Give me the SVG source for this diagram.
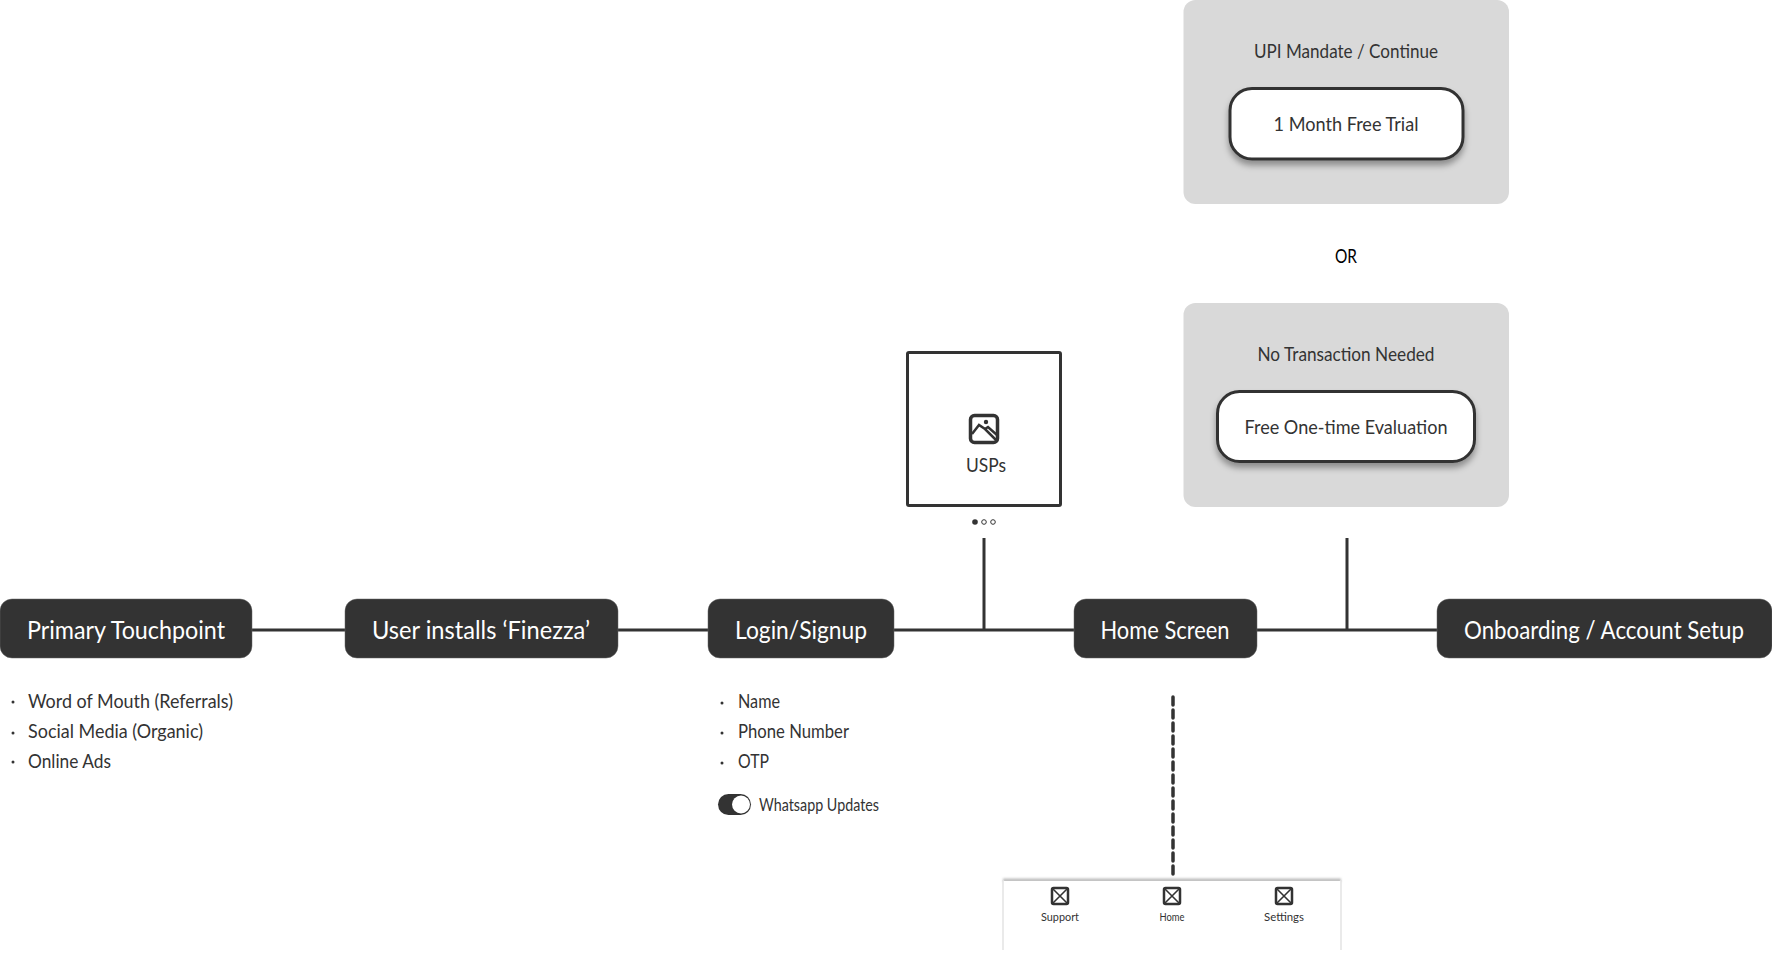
<svg xmlns="http://www.w3.org/2000/svg" width="1772" height="955" viewBox="0 0 1772 955">
<style>
text{font-family:"Lato","Noto Sans","Liberation Sans",sans-serif;fill:#333}
.n{fill:#333;stroke:#666;stroke-width:.5}
.nt{fill:#fff;font-size:25px;text-anchor:middle}
.l{font-size:20px}
.b{font-size:20px;text-anchor:middle}
.c{stroke:#333;stroke-width:3;fill:none}
.d{stroke:#333;stroke-width:3.500;fill:none;stroke-dasharray:8 5;stroke-linecap:round}
.p{fill:#d9d9d9}
.btn{fill:#fff;stroke:#333;stroke-width:3;filter:url(#s)}
.i{fill:none;stroke:#333;stroke-width:2.500}
.ix{fill:none;stroke:#333;stroke-width:1.600}
.tab{font-size:12px;text-anchor:middle}
</style>
<defs>
<filter id="s" x="-10%" y="-20%" width="120%" height="150%"><feDropShadow dx="0" dy="5" stdDeviation="3" flood-color="#000" flood-opacity=".35"/></filter>
<filter id="b" x="-2%" y="-100%" width="104%" height="300%"><feGaussianBlur stdDeviation="1"/></filter>
<g id="x"><rect x="-8" y="-8" width="16" height="16" rx="1.500" class="i"/><path d="M-8-8 8 8M8-8-8 8" class="ix"/></g>
</defs>
<g id="connectors">
<path class="c" d="M252 630H345M618 630H708M894 630H1074M1257 630H1437M984 538V630M1347 538V630"/>
<path class="d" d="M1173 697V875"/>
</g>
<g id="primary-touchpoint"><rect class="n" x="0" y="599" width="252" height="59" rx="12"/><text class="nt" x="126" y="639" textLength="198" lengthAdjust="spacingAndGlyphs">Primary Touchpoint</text></g>
<g id="user-installs"><rect class="n" x="345" y="599" width="273" height="59" rx="12"/><text class="nt" x="481" y="639" textLength="218" lengthAdjust="spacingAndGlyphs">User installs ‘Finezza’</text></g>
<g id="login-signup"><rect class="n" x="708" y="599" width="186" height="59" rx="12"/><text class="nt" x="801" y="639" textLength="132" lengthAdjust="spacingAndGlyphs">Login/Signup</text></g>
<g id="home-screen"><rect class="n" x="1074" y="599" width="183" height="59" rx="12"/><text class="nt" x="1165" y="639" textLength="129" lengthAdjust="spacingAndGlyphs">Home Screen</text></g>
<g id="onboarding"><rect class="n" x="1437" y="599" width="335" height="59" rx="12"/><text x="1464" y="639" style="fill:#fff;font-size:25px" textLength="280" lengthAdjust="spacingAndGlyphs">Onboarding / Account Setup</text></g>
<g id="touchpoint-list">
<circle cx="13" cy="702" r="1.500" fill="#333"/><text class="l" x="28" y="708" textLength="205" lengthAdjust="spacingAndGlyphs">Word of Mouth (Referrals)</text>
<circle cx="13" cy="733" r="1.500" fill="#333"/><text class="l" x="28" y="738" textLength="175" lengthAdjust="spacingAndGlyphs">Social Media (Organic)</text>
<circle cx="13" cy="762" r="1.500" fill="#333"/><text class="l" x="28" y="768" textLength="83" lengthAdjust="spacingAndGlyphs">Online Ads</text>
</g>
<g id="login-list">
<circle cx="722" cy="703" r="1.500" fill="#333"/><text class="l" x="738" y="708" textLength="42" lengthAdjust="spacingAndGlyphs">Name</text>
<circle cx="722" cy="733" r="1.500" fill="#333"/><text class="l" x="738" y="738" textLength="111" lengthAdjust="spacingAndGlyphs">Phone Number</text>
<circle cx="722" cy="763" r="1.500" fill="#333"/><text class="l" x="738" y="768" textLength="31" lengthAdjust="spacingAndGlyphs">OTP</text>
</g>
<g id="whatsapp-toggle"><rect x="718" y="794" width="33" height="21" rx="10.500" fill="#333"/><circle cx="741" cy="804.500" r="9" fill="#fff"/><text x="759" y="811" font-size="17" textLength="120" lengthAdjust="spacingAndGlyphs">Whatsapp Updates</text></g>
<g id="usps"><rect x="907.500" y="352.500" width="153" height="153" rx="1.500" fill="#fff" stroke="#333" stroke-width="3"/>
<rect x="970.500" y="415.500" width="27" height="27" rx="4" fill="none" stroke="#333" stroke-width="3.500"/><circle cx="986" cy="422" r="2.200" fill="#333"/><path d="M972 434 979 425 985 429 997 441M985 429 988 427 997 435" fill="none" stroke="#333" stroke-width="2.500"/>
<text x="986" y="472" font-size="20" text-anchor="middle" textLength="40" lengthAdjust="spacingAndGlyphs">USPs</text>
<circle cx="975" cy="522" r="2.800" fill="#333"/><circle cx="984" cy="522" r="2.300" fill="#fff" stroke="#333" stroke-width="1"/><circle cx="993" cy="522" r="2.300" fill="#fff" stroke="#333" stroke-width="1"/></g>
<g id="upi-mandate"><rect class="p" x="1183.500" y="0" width="325.500" height="204" rx="12"/><text class="b" x="1346" y="58" textLength="184" lengthAdjust="spacingAndGlyphs">UPI Mandate / Continue</text><rect class="btn" x="1230" y="88.500" width="233" height="70.500" rx="22"/><text class="b" x="1346" y="131" textLength="145" lengthAdjust="spacingAndGlyphs">1 Month Free Trial</text></g>
<g id="or"><text x="1346" y="263" font-size="20" text-anchor="middle" style="fill:#000" textLength="22" lengthAdjust="spacingAndGlyphs">OR</text></g>
<g id="no-transaction"><rect class="p" x="1183.500" y="303" width="325.500" height="204" rx="12"/><text class="b" x="1346" y="361" textLength="177" lengthAdjust="spacingAndGlyphs">No Transaction Needed</text><rect class="btn" x="1217.500" y="391.500" width="257" height="70" rx="22"/><text class="b" x="1346" y="434" textLength="203" lengthAdjust="spacingAndGlyphs">Free One-time Evaluation</text></g>
<g id="tab-bar"><rect x="1003" y="878.500" width="338" height="3.500" fill="#bbb" filter="url(#b)"/><path d="M1003 881H1341V950H1003Z" fill="#fff"/><path d="M1003 880V950M1341 880V950" stroke="#e4e4e4" stroke-width="1.500"/>
<use href="#x" x="1060" y="896"/><text class="tab" x="1060" y="921" textLength="38" lengthAdjust="spacingAndGlyphs">Support</text>
<use href="#x" x="1172" y="896"/><text class="tab" x="1172" y="921" textLength="25" lengthAdjust="spacingAndGlyphs">Home</text>
<use href="#x" x="1284" y="896"/><text class="tab" x="1284" y="921" textLength="40" lengthAdjust="spacingAndGlyphs">Settings</text></g>
</svg>
